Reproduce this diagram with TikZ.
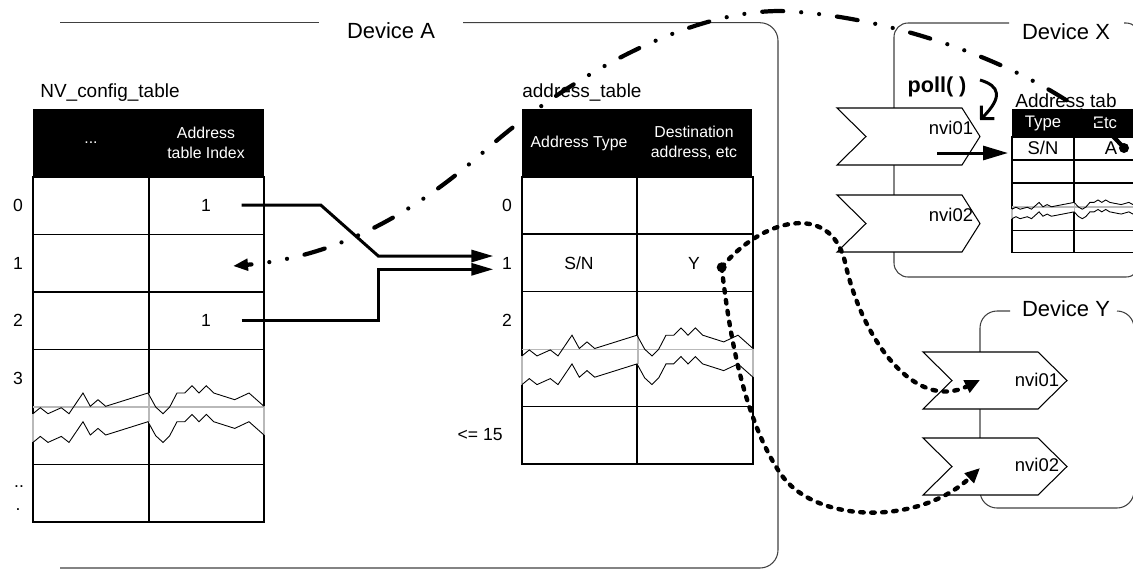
\documentclass[tikz,border=0pt]{standalone}
\usepackage{fontspec}
\setmainfont{Liberation Sans}
\usetikzlibrary{arrows.meta}
\def\tearU{(0,6.7) -- (7.3,0.7) -- (15,6.7) -- (28.3,0.7) -- (36,6.7) -- (50,-14) -- (57.3,-0.7) -- (65,-7.3) -- (72.7,-0.7) -- (115,-14) -- (122.7,0) -- (130,6.7) -- (136.7,0) -- (144,-14) -- (151.7,-14) -- (159,-21.3) -- (166,-14) -- (173.3,-21.3) -- (180.7,-14) -- (201.7,-7.3) -- (216,-14) -- (231,-0.7)}
\def\tearLrev{-- (231,28) -- (216,14.7) -- (201.7,21.4) -- (180.7,14.7) -- (173.3,7.4) -- (166,14.7) -- (159,7.4) -- (151.7,14.7) -- (144,14.7) -- (136.7,28.7) -- (130,35.4) -- (122.7,28.7) -- (115,14.7) -- (72.7,28) -- (65,21.4) -- (57.3,28) -- (50,14.7) -- (36,35.4) -- (28.3,29.4) -- (15,35.4) -- (7.3,29.4) -- (0,35.4)}
\def\tearL{(0,35.4) -- (7.3,29.4) -- (15,35.4) -- (28.3,29.4) -- (36,35.4) -- (50,14.7) -- (57.3,28) -- (65,21.4) -- (72.7,28) -- (115,14.7) -- (122.7,28.7) -- (130,35.4) -- (136.7,28.7) -- (144,14.7) -- (151.7,14.7) -- (159,7.4) -- (166,14.7) -- (173.3,7.4) -- (180.7,14.7) -- (201.7,21.4) -- (216,14.7) -- (231,28)}
\newcommand\tearat[4]{%
\begin{scope}[shift={(#1,#2)},xscale=#3,yscale=#4]
 \fill[white] \tearU \tearLrev -- cycle;
 \draw[gray!55,line width=0.6pt] (0,0) -- (231,0);
 \draw[gray!55,line width=0.6pt] (0,6.7) -- (0,35.4) (231,-0.7) -- (231,28) (116,-14) -- (116,14.7);
 \draw[line width=0.5pt] \tearU;
 \draw[line width=0.5pt] \tearL;
\end{scope}}
\newcommand\chevron[5]{% left x, top y, body length, tip depth
 \filldraw[fill=white,draw=black,line width=0.6pt] (#1,#2) -- ++(#3,0) -- ++(#4,28.5) -- ++(-#4,28.5) -- ++(-#3,0) -- ++(29,-28.5) -- cycle;}
\begin{document}
\begin{tikzpicture}[x=0.02cm,y=-0.02cm,
  frm/.style={draw=black!75,line width=0.6pt},
  grid/.style={draw=black,line width=0.6pt},
  txt/.style={inner sep=0pt,font=\fontsize{10}{12}\selectfont},
  big/.style={inner sep=0pt,font=\fontsize{12.5}{15}\selectfont},
  ttl/.style={inner sep=0pt,font=\fontsize{10.8}{13}\selectfont},
  hdr/.style={inner sep=0pt,text=white,align=center,font=\fontsize{9}{11.5}\selectfont},
  nvi/.style={inner sep=0pt,font=\fontsize{10.5}{12}\selectfont},
  conn/.style={line width=1.7pt,-{Triangle[length=0.44cm,width=0.24cm]}},
  dotlink/.style={line width=2.5pt,line cap=round,dash pattern=on 0.07cm off 0.15cm,-{Triangle[length=0.3cm,width=0.26cm]}},
  dashdotlink/.style={line width=2.4pt,line cap=round,dash pattern=on 0.42cm off 0.36cm on 0cm off 0.36cm on 0cm off 0.36cm,-{Triangle[length=0.3cm,width=0.23cm]}}
]
\clip (0,0) rectangle (1133,569);
% ---------- Device A frame
\draw[frm] (60,22.7) -- (319,22.7);
\draw[frm,rounded corners=0.36cm] (463,22.7) -- (778,22.7) -- (778,568) -- (60,568);
\node[big] (devA) at (391,31) {Device A};
% ---------- NV_config_table
\node[ttl,anchor=base west] (nvt) at (40,97) {NV\_config\_table};
\fill (33,109) rectangle (264,177);
\draw[grid] (33,177) rectangle (264,522);
\foreach \yy in {234.5,292,349.5,464.5} \draw[grid] (33,\yy) -- (264,\yy);
\draw[grid] (149,177) -- (149,522);
\tearat{33}{407}{1}{1}
\node[hdr] (nvh1) at (91,143) {...};
\node[hdr] (nvh2) at (206,143) {Address\\table Index};
\node[txt] (nr0) at (18,205.5) {0};
\node[txt] (nr1) at (18,263) {1};
\node[txt] (nr2) at (18,320.5) {2};
\node[txt] (nr3) at (18,378) {3};
\node[txt,anchor=base] (nr4) at (19,487) {..};
\node[txt,anchor=base] (nr5) at (18,510) {.};
\node[txt] (nv0) at (206,205.5) {1};
\node[txt] (nv2) at (206,320.5) {1};
% ---------- address_table
\node[ttl,anchor=base west] (adt) at (522,97) {address\_table};
\fill (522,109) rectangle (752,177);
\draw[grid] (522,177) rectangle (753,464);
\foreach \yy in {234,291.7,406.7} \draw[grid] (522,\yy) -- (753,\yy);
\draw[grid] (637,177) -- (637,464);
\tearat{522}{349.2}{1}{1}
\node[hdr] (adh1) at (579,143) {Address Type};
\node[hdr] (adh2) at (694,143) {Destination\\address, etc};
\node[txt] (ar0) at (507,205.5) {0};
\node[txt] (ar1) at (507,263) {1};
\node[txt] (ar2) at (507,320) {2};
\node[txt,anchor=east] (ar15) at (503,435) {<= 15};
\node[txt] (ad1a) at (579,263) {S/N};
\node[txt] (ad1b) at (694,263) {Y};
% ---------- Device X
\draw[frm,rounded corners=0.28cm] (1009,23) -- (894,23) -- (894,277) -- (1140,277) -- (1140,23) -- (1124,23);
\node[big] (devX) at (1066,32) {Device X};
\chevron{837}{108}{125}{18}{}
\chevron{837}{195}{125}{18}{}
\node[nvi] (xn1) at (951,128) {nvi01};
\node[nvi] (xn2) at (951,215) {nvi02};
\node[inner sep=0pt,font=\fontsize{12.3}{14}\selectfont\bfseries] (poll) at (937,87) {poll( )};
\node[ttl,anchor=base west] (xat) at (1015,107) {Address tab};
\fill (1012,109) rectangle (1137,137);
\draw[grid] (1012,137) rectangle (1137,252.7);
\foreach \yy in {160,183,230.7} \draw[grid] (1012,\yy) -- (1137,\yy);
\draw[grid] (1074,137) -- (1074,252.7);
\tearat{1012}{207}{0.541}{0.33}
\node[hdr,font=\fontsize{9.5}{11}\selectfont] (xh1) at (1043,123) {Type};
\node[hdr,font=\fontsize{9.5}{11}\selectfont] (xh2) at (1105,123) {Etc};
\node[nvi] (x1a) at (1043,148) {S/N};
\node[nvi] (x1b) at (1111,148) {A};
% ---------- Device Y
\draw[frm,rounded corners=0.34cm] (1010,311) -- (980,311) -- (980,508) -- (1134,508) -- (1134,311) -- (1117,311);
\node[big] (devY) at (1066,309) {Device Y};
\chevron{923}{352}{115}{29}{}
\chevron{923}{438}{115}{29}{}
\node[nvi] (yn1) at (1037,380) {nvi01};
\node[nvi] (yn2) at (1037,465) {nvi02};
% ---------- connector end points
\coordinate (s0) at (241.7,205);
\coordinate (s2) at (241.7,320.7);
\coordinate (e1) at (493.3,256);
\coordinate (e2) at (493.3,269.3);
\coordinate (ydot) at (721.7,267.3);
\coordinate (xdot) at (1124,148);
\coordinate (nvarr) at (233,266);
\coordinate (ytip1) at (980,380);
\coordinate (ytip2) at (980,468);
\coordinate (pollA) at (980,80);
\coordinate (pollB) at (980,120);
\coordinate (xs) at (937,153);
\coordinate (xt) at (1008,153);
% ---------- solid connectors
\draw[conn] (s0) -- (320.7,205) -- (378.3,256) -- (e1);
\draw[conn] (s2) -- (378.3,320.7) -- (378.3,269.3) -- (e2);
\draw[line width=1.7pt,-{Straight Barb[length=0.18cm,width=0.37cm]}] (pollA) .. controls (1000,86) and (1003,97) .. (pollB);
\draw[line width=1.7pt,-{Triangle[length=0.5cm,width=0.28cm]}] (xs) -- (xt);
% ---------- dotted links
\draw[dotlink] (ydot) .. controls (760,220) and (830,200) .. (845,262) .. controls (862,340) and (915,412) .. (ytip1);
\draw[dotlink] (ydot) .. controls (730,340) and (745,420) .. (780,473) .. controls (815,525) and (920,525) .. (ytip2);
\fill (ydot) circle[radius=5];
% ---------- dash-dot link
\draw[dashdotlink] (xdot) .. controls (1060,75) and (900,15) .. (780,11) .. controls (680,11) and (560,85) .. (488,148) .. controls (415,213) and (337,257) .. (nvarr);
\fill (xdot) circle[radius=5];
\end{tikzpicture}
\end{document}
